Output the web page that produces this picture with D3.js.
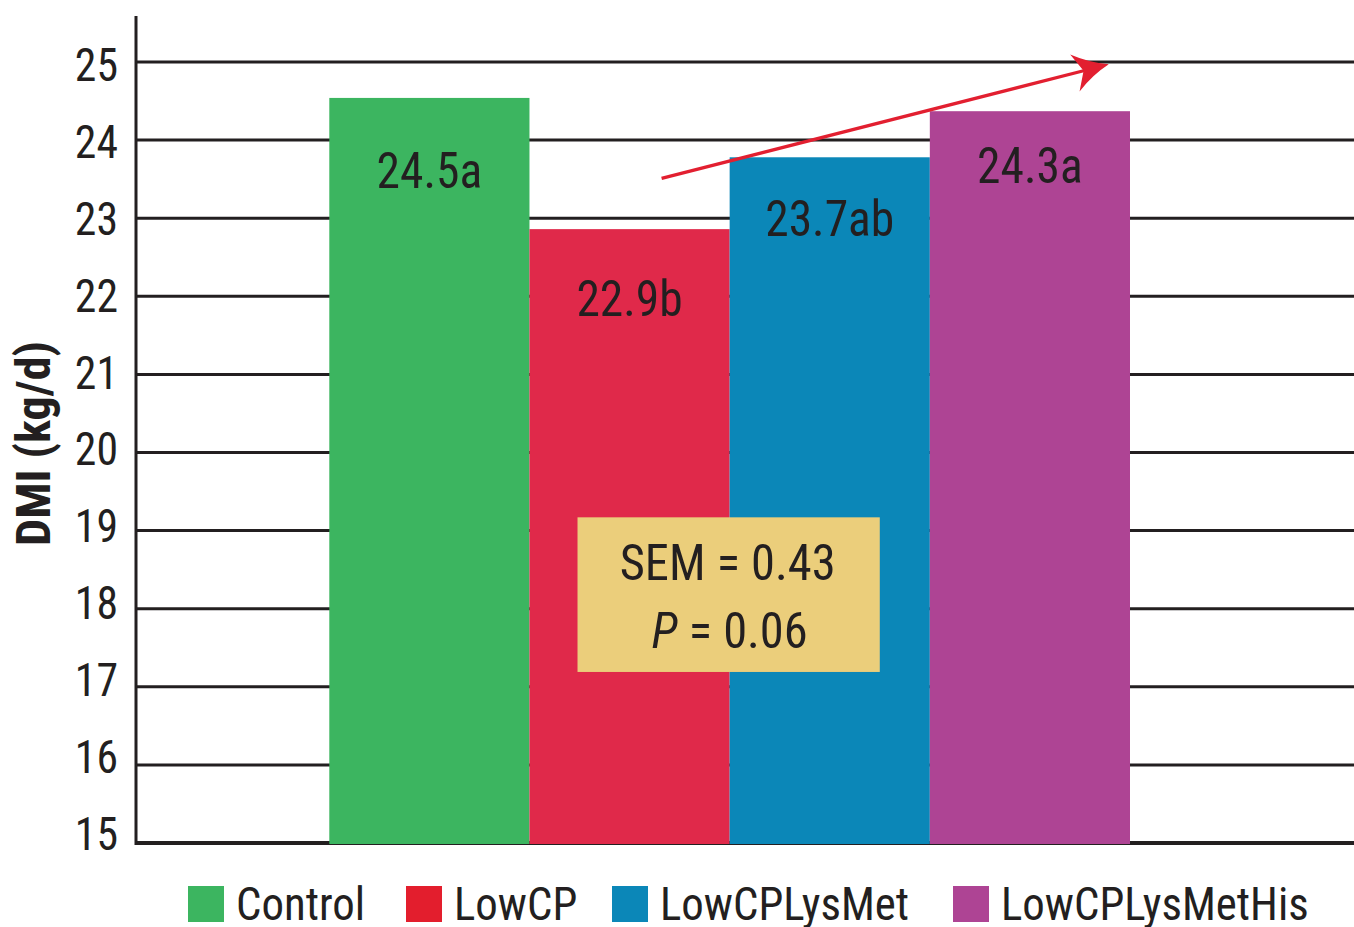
<!DOCTYPE html>
<html>
<head>
<meta charset="utf-8">
<script src="https://cdn.jsdelivr.net/npm/d3@7"></script>
<style>
  html, body { margin: 0; padding: 0; background: #fff; }
  svg { display: block; }
  text { font-family: "Liberation Sans Narrow", "Arial Narrow", "Roboto Condensed", sans-serif; fill: #231f20; }
</style>
</head>
<body>
<svg id="chart" width="1354" height="927"></svg>
<script>
// ---- data ----
const categories = ["Control", "LowCP", "LowCPLysMet", "LowCPLysMetHis"];
const values = [24.54, 22.86, 23.78, 24.37];
const barLabels = ["24.5a", "22.9b", "23.7ab", "24.3a"];
// value level (data units) at which each bar label's baseline sits
const barLabelAt = [23.39, 21.75, 22.77, 23.45];
const barColors = ["#3cb560", "#e0294a", "#0b87b8", "#ae4494"];
const legendColors = ["#3cb560", "#e31e2d", "#0b87b8", "#ae4494"];
const yTicks = [15, 16, 17, 18, 19, 20, 21, 22, 23, 24, 25];
const yTitle = "DMI (kg/d)";
// trend arrow: [category, fraction across band, value]
const arrowFrom = ["LowCP", 0.66, 23.51];
const arrowTo = ["LowCPLysMetHis", 0.894, 24.97];
// statistics box corners: [category, fraction across band, value]
const statBoxFrom = ["LowCP", 0.24, 19.17];
const statBoxTo = ["LowCPLysMet", 0.75, 17.19];
const semText = "SEM = 0.43";
const pValue = "0.06";

// ---- layout ----
const W = 1354, H = 927;
const axisX = 136;
const svg = d3.select("#chart");

const y = d3.scaleLinear().domain([15, 25]).range([843, 62]);
// tick labels sit on a slightly compressed scale in the original
const yLab = d3.scaleLinear().domain([15, 25]).range([833, 64.5]);
const x = d3.scaleBand().domain(categories).range([329.3, 1130]).padding(0);
const px = (c, f) => x(c) + f * x.bandwidth();

// helper: condensed text (horizontal squeeze about its anchor)
function ctext(sel, xx, yy, sx) {
  const g = sel.append("g").attr("transform", `translate(${xx},${yy}) scale(${sx},1)`);
  return g.append("text").attr("x", 0).attr("y", 0);
}

// gridlines
svg.append("g").selectAll("line").data(yTicks).join("line")
  .attr("x1", axisX).attr("x2", W)
  .attr("y1", d => y(d)).attr("y2", d => y(d))
  .attr("stroke", "#231f20").attr("stroke-width", d => d === 15 ? 4 : 3);

// y axis line
svg.append("line")
  .attr("x1", axisX).attr("x2", axisX)
  .attr("y1", 16).attr("y2", y(15) + 2)
  .attr("stroke", "#231f20").attr("stroke-width", 3);

// tick labels
const tg = svg.append("g");
yTicks.forEach(t => {
  ctext(tg, 118, yLab(t), 0.93)
    .attr("dy", "0.355em")
    .attr("text-anchor", "end")
    .attr("font-size", 47)
    .text(t);
});

// y title
svg.append("text")
  .attr("transform", `translate(50,${(340 + 547) / 2}) rotate(-90)`)
  .attr("text-anchor", "middle")
  .attr("font-size", 48)
  .attr("font-weight", "bold")
  .text(yTitle);

// bars
const data = categories.map((c, i) => ({ c, v: values[i], label: barLabels[i], at: barLabelAt[i], color: barColors[i] }));
svg.append("g").selectAll("rect").data(data).join("rect")
  .attr("x", d => x(d.c))
  .attr("width", x.bandwidth())
  .attr("y", d => y(d.v))
  .attr("height", d => y(15) - y(d.v) + 1)
  .attr("fill", d => d.color);

// bar labels
const lgp = svg.append("g");
data.forEach(d => {
  ctext(lgp, x(d.c) + x.bandwidth() / 2, y(d.at), 0.95)
    .attr("text-anchor", "middle")
    .attr("font-size", 50)
    .text(d.label);
});

// trend arrow
const ax0 = px(arrowFrom[0], arrowFrom[1]), ay0 = y(arrowFrom[2]);
const ax1 = px(arrowTo[0], arrowTo[1]), ay1 = y(arrowTo[2]);
const angR = Math.atan2(ay1 - ay0, ax1 - ax0);
const ang = angR * 180 / Math.PI;
const red = "#e21f30";
svg.append("line")
  .attr("x1", ax0).attr("y1", ay0)
  .attr("x2", ax1 - 24 * Math.cos(angR)).attr("y2", ay1 - 24 * Math.sin(angR))
  .attr("stroke", red).attr("stroke-width", 3.2);
svg.append("path")
  .attr("transform", `translate(${ax1},${ay1}) rotate(${ang})`)
  .attr("d", "M0,0 Q-18,-6 -35,-19 L-26,0 L-35,19 Q-18,6 0,0 Z")
  .attr("fill", red);

// statistics box
const bx0 = px(statBoxFrom[0], statBoxFrom[1]), by0 = y(statBoxFrom[2]);
const bx1 = px(statBoxTo[0], statBoxTo[1]), by1 = y(statBoxTo[2]);
svg.append("rect")
  .attr("x", bx0).attr("y", by0)
  .attr("width", bx1 - bx0).attr("height", by1 - by0)
  .attr("fill", "#ebce7b");
const bcx = (bx0 + bx1) / 2;
ctext(svg, bcx - 1, by0 + 63, 0.97)
  .attr("text-anchor", "middle").attr("font-size", 50)
  .text(semText);
const pt = ctext(svg, bcx + 1, by0 + 131, 0.97)
  .attr("text-anchor", "middle").attr("font-size", 50);
pt.append("tspan").attr("font-style", "italic").text("P");
pt.append("tspan").text(" = " + pValue);

// legend
const legendX = [188, 406, 612, 953];
const lgd = svg.append("g");
categories.forEach((c, i) => {
  lgd.append("rect")
    .attr("x", legendX[i]).attr("y", 886).attr("width", 36).attr("height", 36)
    .attr("fill", legendColors[i]);
  ctext(lgd, legendX[i] + 48, 920, 0.955)
    .attr("font-size", 47)
    .text(c);
});
</script>
</body>
</html>
